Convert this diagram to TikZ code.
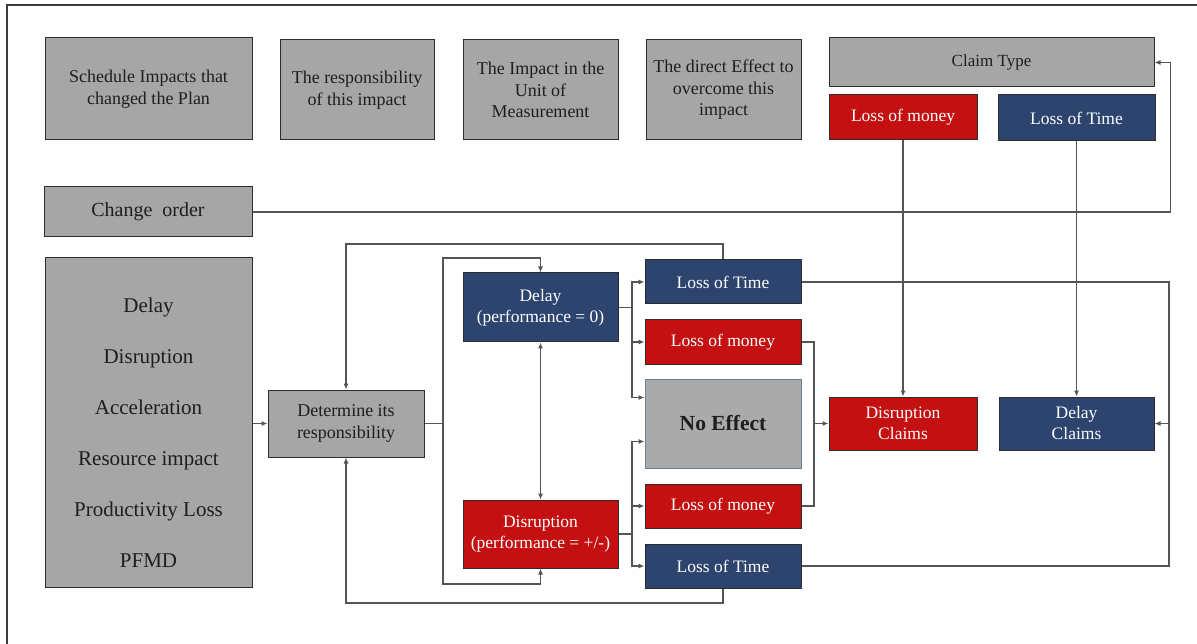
\documentclass[tikz,border=0pt]{standalone}
\usepackage{fontspec}
\setmainfont{LiberationSerif}[Extension=.ttf, UprightFont=*-Regular, BoldFont=*-Bold, ItalicFont=*-Italic]
\usetikzlibrary{arrows.meta}

\definecolor{boxgray}{RGB}{166,166,166}
\definecolor{lightgray}{RGB}{170,170,170}
\definecolor{navy}{RGB}{44,68,110}
\definecolor{crimson}{RGB}{196,16,16}
\definecolor{boxedge}{RGB}{45,45,45}
\definecolor{softedge}{RGB}{110,128,155}
\definecolor{linegray}{RGB}{85,85,85}
\definecolor{textdark}{RGB}{30,30,30}
\definecolor{framecol}{RGB}{60,60,60}

\tikzset{
  base/.style={draw=boxedge, line width=1pt, align=center, inner sep=0pt},
  graybox/.style={base, fill=boxgray, text=textdark, font=\fontsize{18}{21.5}\selectfont},
  navybox/.style={base, fill=navy, text=white, font=\fontsize{17.5}{21}\selectfont},
  redbox/.style={base, fill=crimson, text=white, font=\fontsize{17.5}{21}\selectfont},
  conn/.style={draw=linegray, line width=1.1pt},
  arr/.style={conn, -{Latex[length=6pt,width=5pt]}},
  dblarr/.style={conn, {Latex[length=6pt,width=5pt]}-{Latex[length=6pt,width=5pt]}},
}

\begin{document}
\begin{tikzpicture}[x=1pt, y=-1pt]
\useasboundingbox (0,0) rectangle (1197,644);
\fill[white] (0,0) rectangle (1197,644);
% outer frame
\draw[framecol, line width=1.2pt] (7,5) rectangle (1215,665);

% header row
\node[graybox, minimum width=207pt, minimum height=102pt] (sched) at (148.5,89) {Schedule Impacts that\\changed the Plan};
\node[graybox, minimum width=154pt, minimum height=100pt] (resp) at (357,90) {The responsibility\\of this impact};
\node[graybox, minimum width=155pt, minimum height=100pt] (unit) at (540.5,90) {The Impact in the\\Unit of\\Measurement};
\node[graybox, minimum width=155pt, minimum height=100pt] (direct) at (723.5,90) {The direct Effect to\\overcome this\\impact};
\node[graybox, minimum width=325pt, minimum height=49pt, font=\fontsize{17}{20}\selectfont] (claim) at (991.5,62.5) {Claim Type};
\node[redbox, minimum width=148pt, minimum height=45pt] (topmoney) at (903,117.5) {Loss of money};
\node[navybox, minimum width=157pt, minimum height=46pt] (toptime) at (1076.5,118) {Loss of Time};

% change order
\node[graybox, minimum width=208pt, minimum height=50pt, font=\fontsize{20}{24}\selectfont] (change) at (148,212) {Change\ \ order};

% impact types
\node[graybox, minimum width=207pt, minimum height=329pt] (big) at (148.5,422.5) {};
\node[text=textdark, align=center, inner sep=0pt, font=\fontsize{21}{51}\selectfont] (bigtext) at (148.5,433)
  {Delay\\Disruption\\Acceleration\\Resource impact\\Productivity Loss\\PFMD};

% decision
\node[graybox, minimum width=156pt, minimum height=67pt] (det) at (346,423.5) {Determine its\\responsibility};
\node[navybox, minimum width=155pt, minimum height=69pt] (delay) at (540.5,307.5) {Delay\\(performance = 0)};
\node[redbox, minimum width=155pt, minimum height=68pt] (disr) at (540.5,534) {Disruption\\(performance = +/-)};

% effects
\node[navybox, minimum width=156pt, minimum height=44pt] (lot1) at (723,282) {Loss of Time};
\node[redbox, minimum width=156pt, minimum height=44pt] (lom1) at (723,342) {Loss of money};
\node[base, draw=softedge, fill=lightgray, text=textdark, minimum width=156pt, minimum height=89pt,
      font=\fontsize{21.5}{25}\selectfont\bfseries] (noeff) at (723,423.5) {No Effect};
\node[redbox, minimum width=156pt, minimum height=44pt] (lom2) at (723,506) {Loss of money};
\node[navybox, minimum width=156pt, minimum height=44pt] (lot2) at (723,566) {Loss of Time};

% claims
\node[redbox, minimum width=148pt, minimum height=53pt] (disc) at (903,423.5) {Disruption\\Claims};
\node[navybox, minimum width=155pt, minimum height=53pt] (delc) at (1076.5,423.5) {Delay\\Claims};

% junction points
\coordinate (sptop) at (443,258);
\coordinate (spbot) at (443,584);
\coordinate (looptop) at (346,244);
\coordinate (loopbot) at (346,603);
\coordinate (db) at (632,307.5);
\coordinate (rb) at (632,534);
\coordinate (mm) at (814,423.5);
\coordinate (tm) at (1169,423.5);

% connectors
\draw[arr] (change.east) -| ([xshift=16pt]claim.east) -- (claim.east);
\draw[arr] (det.west -| big.east) -- (det.west);
\draw[arr] (det.east) -| (sptop) -| (delay.north);
\draw[arr] (det.east) -| (spbot) -| (disr.south);
\draw[dblarr] (delay.south) -- (disr.north);
\draw[arr] (lot1.north) |- (looptop) -- (det.north);
\draw[arr] (lot2.south) |- (loopbot) -- (det.south);

\draw[conn] (delay.east) -- (db);
\draw[arr] (db) |- (lot1.west);
\draw[arr] (db) |- (lom1.west);
\draw[arr] (db) |- ([yshift=26pt]noeff.west);
\draw[conn] (disr.east) -- (rb);
\draw[arr] (rb) |- ([yshift=-18pt]noeff.west);
\draw[arr] (rb) |- (lom2.west);
\draw[arr] (rb) |- (lot2.west);

\draw[conn] (lom1.east) -| (mm);
\draw[conn] (lom2.east) -| (mm);
\draw[arr, line width=1.6pt] (mm) -- (disc.west);
\draw[conn] (lot1.east) -| (tm);
\draw[conn] (lot2.east) -| (tm);
\draw[arr] (tm) -- (delc.east);

\draw[arr] (topmoney.south) -- (disc.north);
\draw[arr] (toptime.south) -- (delc.north);
\end{tikzpicture}
\end{document}
